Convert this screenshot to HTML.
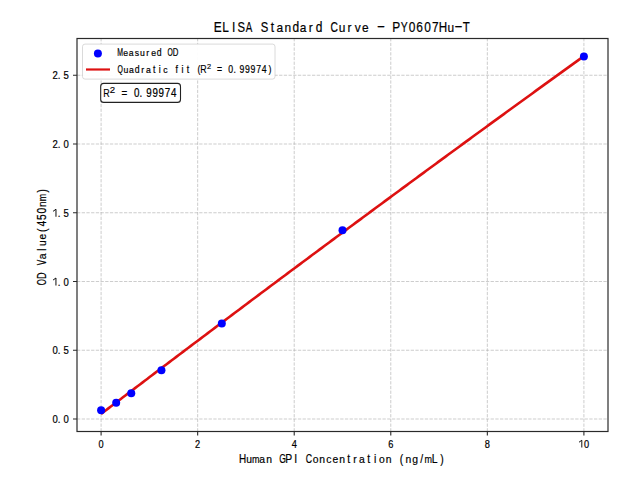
<!DOCTYPE html><html><head><meta charset="utf-8"><style>html,body{margin:0;padding:0;background:#fff;width:640px;height:480px;overflow:hidden}svg{display:block}text{font-family:"Liberation Sans",sans-serif}</style></head><body>
<svg width="640" height="480" viewBox="0 0 640 480">
<rect width="640" height="480" fill="#fff"/>
<path d="M101.10 431.50V38.50M197.66 431.50V38.50M294.22 431.50V38.50M390.78 431.50V38.50M487.34 431.50V38.50M583.90 431.50V38.50M77.00 419.00H608.00M77.00 350.25H608.00M77.00 281.50H608.00M77.00 212.75H608.00M77.00 144.00H608.00M77.00 75.25H608.00" stroke="#b0b0b0" stroke-opacity="0.7" stroke-width="0.9" stroke-dasharray="3.3 1.4" fill="none"/>
<polyline points="101.10,413.94 103.53,412.09 105.95,410.24 108.38,408.39 110.80,406.55 113.23,404.70 115.66,402.86 118.08,401.01 120.51,399.17 122.94,397.33 125.36,395.48 127.79,393.64 130.21,391.80 132.64,389.96 135.07,388.12 137.49,386.27 139.92,384.43 142.34,382.60 144.77,380.76 147.20,378.92 149.62,377.08 152.05,375.24 154.47,373.41 156.90,371.57 159.33,369.73 161.75,367.90 164.18,366.06 166.61,364.23 169.03,362.39 171.46,360.56 173.88,358.73 176.31,356.89 178.74,355.06 181.16,353.23 183.59,351.40 186.01,349.57 188.44,347.74 190.87,345.91 193.29,344.08 195.72,342.25 198.15,340.42 200.57,338.60 203.00,336.77 205.42,334.94 207.85,333.12 210.28,331.29 212.70,329.47 215.13,327.64 217.55,325.82 219.98,323.99 222.41,322.17 224.83,320.35 227.26,318.53 229.68,316.70 232.11,314.88 234.54,313.06 236.96,311.24 239.39,309.42 241.82,307.60 244.24,305.79 246.67,303.97 249.09,302.15 251.52,300.33 253.95,298.52 256.37,296.70 258.80,294.88 261.22,293.07 263.65,291.25 266.08,289.44 268.50,287.63 270.93,285.81 273.36,284.00 275.78,282.19 278.21,280.38 280.63,278.57 283.06,276.76 285.49,274.95 287.91,273.14 290.34,271.33 292.76,269.52 295.19,267.71 297.62,265.90 300.04,264.10 302.47,262.29 304.89,260.48 307.32,258.68 309.75,256.87 312.17,255.07 314.60,253.26 317.03,251.46 319.45,249.66 321.88,247.85 324.30,246.05 326.73,244.25 329.16,242.45 331.58,240.65 334.01,238.85 336.43,237.05 338.86,235.25 341.29,233.45 343.71,231.65 346.14,229.85 348.57,228.06 350.99,226.26 353.42,224.46 355.84,222.67 358.27,220.87 360.70,219.08 363.12,217.28 365.55,215.49 367.97,213.70 370.40,211.91 372.83,210.11 375.25,208.32 377.68,206.53 380.11,204.74 382.53,202.95 384.96,201.16 387.38,199.37 389.81,197.58 392.24,195.79 394.66,194.01 397.09,192.22 399.51,190.43 401.94,188.65 404.37,186.86 406.79,185.08 409.22,183.29 411.64,181.51 414.07,179.72 416.50,177.94 418.92,176.16 421.35,174.37 423.78,172.59 426.20,170.81 428.63,169.03 431.05,167.25 433.48,165.47 435.91,163.69 438.33,161.91 440.76,160.13 443.18,158.36 445.61,156.58 448.04,154.80 450.46,153.03 452.89,151.25 455.32,149.48 457.74,147.70 460.17,145.93 462.59,144.15 465.02,142.38 467.45,140.61 469.87,138.83 472.30,137.06 474.72,135.29 477.15,133.52 479.58,131.75 482.00,129.98 484.43,128.21 486.85,126.44 489.28,124.67 491.71,122.91 494.13,121.14 496.56,119.37 498.99,117.61 501.41,115.84 503.84,114.08 506.26,112.31 508.69,110.55 511.12,108.78 513.54,107.02 515.97,105.26 518.39,103.49 520.82,101.73 523.25,99.97 525.67,98.21 528.10,96.45 530.53,94.69 532.95,92.93 535.38,91.17 537.80,89.41 540.23,87.66 542.66,85.90 545.08,84.14 547.51,82.39 549.93,80.63 552.36,78.88 554.79,77.12 557.21,75.37 559.64,73.61 562.06,71.86 564.49,70.11 566.92,68.35 569.34,66.60 571.77,64.85 574.20,63.10 576.62,61.35 579.05,59.60 581.47,57.85 583.90,56.10" fill="none" stroke="#dd1111" stroke-width="2.6" stroke-linejoin="round"/>
<circle cx="101.10" cy="410.20" r="4" fill="#0000ff"/>
<circle cx="116.19" cy="402.64" r="4" fill="#0000ff"/>
<circle cx="131.27" cy="393.15" r="4" fill="#0000ff"/>
<circle cx="161.45" cy="370.32" r="4" fill="#0000ff"/>
<circle cx="221.80" cy="323.57" r="4" fill="#0000ff"/>
<circle cx="342.50" cy="230.35" r="4" fill="#0000ff"/>
<circle cx="583.90" cy="56.55" r="4" fill="#0000ff"/>
<rect x="77.00" y="38.50" width="531.00" height="393.00" fill="none" stroke="#2a2a2a" stroke-width="1.2"/>
<path d="M101.10 431.50v4M197.66 431.50v4M294.22 431.50v4M390.78 431.50v4M487.34 431.50v4M583.90 431.50v4M77.00 419.00h-4M77.00 350.25h-4M77.00 281.50h-4M77.00 212.75h-4M77.00 144.00h-4M77.00 75.25h-4" stroke="#2a2a2a" stroke-width="1.1" fill="none"/>
<g><text transform="translate(98.53,447.50) scale(0.820,1.000)" font-size="11.26" fill="#000" stroke="#000" stroke-width="0.22">0</text></g>
<g><text transform="translate(195.09,447.50) scale(0.820,1.000)" font-size="11.26" fill="#000" stroke="#000" stroke-width="0.22">2</text></g>
<g><text transform="translate(291.68,447.50) scale(0.820,1.000)" font-size="11.26" fill="#000" stroke="#000" stroke-width="0.22">4</text></g>
<g><text transform="translate(388.18,447.50) scale(0.820,1.000)" font-size="11.26" fill="#000" stroke="#000" stroke-width="0.22">6</text></g>
<g><text transform="translate(484.77,447.50) scale(0.820,1.000)" font-size="11.26" fill="#000" stroke="#000" stroke-width="0.22">8</text></g>
<g><path d="M581.80 447.50V440.25L579.01 442.23" stroke="#000" stroke-width="0.93" fill="none" stroke-linejoin="bevel"/><text transform="translate(584.11,447.50) scale(0.820,1.000)" font-size="11.26" fill="#000" stroke="#000" stroke-width="0.22">0</text></g>
<g><text transform="translate(52.57,423.00) scale(0.820,1.000)" font-size="11.63" fill="#000" stroke="#000" stroke-width="0.22">0</text><text transform="translate(57.75,423.00) scale(0.820,1.000)" font-size="11.63" fill="#000" stroke="#000" stroke-width="0.22">.</text><text transform="translate(63.57,423.00) scale(0.820,1.000)" font-size="11.63" fill="#000" stroke="#000" stroke-width="0.22">0</text></g>
<g><text transform="translate(52.59,354.25) scale(0.820,1.000)" font-size="11.63" fill="#000" stroke="#000" stroke-width="0.22">0</text><text transform="translate(57.77,354.25) scale(0.820,1.000)" font-size="11.63" fill="#000" stroke="#000" stroke-width="0.22">.</text><text transform="translate(63.60,354.25) scale(0.820,1.000)" font-size="11.63" fill="#000" stroke="#000" stroke-width="0.22">5</text></g>
<g><path d="M55.95 285.50V278.00L53.07 280.06" stroke="#000" stroke-width="0.96" fill="none" stroke-linejoin="bevel"/><text transform="translate(57.75,285.50) scale(0.820,1.000)" font-size="11.63" fill="#000" stroke="#000" stroke-width="0.22">.</text><text transform="translate(63.57,285.50) scale(0.820,1.000)" font-size="11.63" fill="#000" stroke="#000" stroke-width="0.22">0</text></g>
<g><path d="M55.97 216.75V209.25L53.09 211.31" stroke="#000" stroke-width="0.96" fill="none" stroke-linejoin="bevel"/><text transform="translate(57.77,216.75) scale(0.820,1.000)" font-size="11.63" fill="#000" stroke="#000" stroke-width="0.22">.</text><text transform="translate(63.60,216.75) scale(0.820,1.000)" font-size="11.63" fill="#000" stroke="#000" stroke-width="0.22">5</text></g>
<g><text transform="translate(52.57,148.00) scale(0.820,1.000)" font-size="11.63" fill="#000" stroke="#000" stroke-width="0.22">2</text><text transform="translate(57.75,148.00) scale(0.820,1.000)" font-size="11.63" fill="#000" stroke="#000" stroke-width="0.22">.</text><text transform="translate(63.57,148.00) scale(0.820,1.000)" font-size="11.63" fill="#000" stroke="#000" stroke-width="0.22">0</text></g>
<g><text transform="translate(52.59,79.25) scale(0.820,1.000)" font-size="11.63" fill="#000" stroke="#000" stroke-width="0.22">2</text><text transform="translate(57.77,79.25) scale(0.820,1.000)" font-size="11.63" fill="#000" stroke="#000" stroke-width="0.22">.</text><text transform="translate(63.60,79.25) scale(0.820,1.000)" font-size="11.63" fill="#000" stroke="#000" stroke-width="0.22">5</text></g>
<g><text transform="translate(213.82,31.50) scale(0.820,1.000)" font-size="14.54" fill="#000" stroke="#000" stroke-width="0.22">E</text><text transform="translate(222.18,31.50) scale(0.820,1.000)" font-size="14.54" fill="#000" stroke="#000" stroke-width="0.22">L</text><text transform="translate(231.89,31.50) scale(0.820,1.000)" font-size="14.54" fill="#000" stroke="#000" stroke-width="0.22">I</text><text transform="translate(237.55,31.50) scale(0.775,1.000)" font-size="14.54" fill="#000" stroke="#000" stroke-width="0.22">S</text><text transform="translate(245.80,31.50) scale(0.673,1.000)" font-size="14.54" fill="#000" stroke="#000" stroke-width="0.22">A</text><text transform="translate(260.82,31.50) scale(0.775,1.000)" font-size="14.54" fill="#000" stroke="#000" stroke-width="0.22">S</text><text transform="translate(270.63,31.50) scale(0.820,1.000)" font-size="14.54" fill="#000" stroke="#000" stroke-width="0.22">t</text><text transform="translate(276.52,31.50) scale(0.820,0.900)" font-size="14.54" fill="#000" stroke="#000" stroke-width="0.22">a</text><text transform="translate(284.52,31.50) scale(0.820,0.900)" font-size="14.54" fill="#000" stroke="#000" stroke-width="0.22">n</text><text transform="translate(292.42,31.50) scale(0.820,1.000)" font-size="14.54" fill="#000" stroke="#000" stroke-width="0.22">d</text><text transform="translate(299.79,31.50) scale(0.820,0.900)" font-size="14.54" fill="#000" stroke="#000" stroke-width="0.22">a</text><text transform="translate(308.83,31.50) scale(0.820,0.900)" font-size="14.54" fill="#000" stroke="#000" stroke-width="0.22">r</text><text transform="translate(315.69,31.50) scale(0.820,1.000)" font-size="14.54" fill="#000" stroke="#000" stroke-width="0.22">d</text><text transform="translate(330.62,31.50) scale(0.704,1.000)" font-size="14.54" fill="#000" stroke="#000" stroke-width="0.22">C</text><text transform="translate(338.84,31.50) scale(0.820,0.900)" font-size="14.54" fill="#000" stroke="#000" stroke-width="0.22">u</text><text transform="translate(347.62,31.50) scale(0.820,0.900)" font-size="14.54" fill="#000" stroke="#000" stroke-width="0.22">r</text><text transform="translate(354.68,31.50) scale(0.820,0.900)" font-size="14.54" fill="#000" stroke="#000" stroke-width="0.22">v</text><text transform="translate(362.11,31.50) scale(0.820,0.900)" font-size="14.54" fill="#000" stroke="#000" stroke-width="0.22">e</text><text transform="translate(376.70,30.80) scale(1.749,1.000)" font-size="14.54" fill="#000" stroke="#000" stroke-width="0.22">-</text><text transform="translate(392.29,31.50) scale(0.820,1.000)" font-size="14.54" fill="#000" stroke="#000" stroke-width="0.22">P</text><text transform="translate(400.73,31.50) scale(0.716,1.000)" font-size="14.54" fill="#000" stroke="#000" stroke-width="0.22">Y</text><text transform="translate(408.64,31.50) scale(0.820,1.000)" font-size="14.54" fill="#000" stroke="#000" stroke-width="0.22">0</text><text transform="translate(416.36,31.50) scale(0.820,1.000)" font-size="14.54" fill="#000" stroke="#000" stroke-width="0.22">6</text><text transform="translate(424.16,31.50) scale(0.820,1.000)" font-size="14.54" fill="#000" stroke="#000" stroke-width="0.22">0</text><text transform="translate(431.91,31.50) scale(0.820,1.000)" font-size="14.54" fill="#000" stroke="#000" stroke-width="0.22">7</text><text transform="translate(438.79,31.50) scale(0.799,1.000)" font-size="14.54" fill="#000" stroke="#000" stroke-width="0.22">H</text><text transform="translate(447.44,31.50) scale(0.820,0.900)" font-size="14.54" fill="#000" stroke="#000" stroke-width="0.22">u</text><text transform="translate(454.27,30.80) scale(1.749,1.000)" font-size="14.54" fill="#000" stroke="#000" stroke-width="0.22">-</text><text transform="translate(462.76,31.50) scale(0.789,1.000)" font-size="14.54" fill="#000" stroke="#000" stroke-width="0.22">T</text></g>
<g><text transform="translate(238.94,463.30) scale(0.785,1.000)" font-size="12.65" fill="#000" stroke="#000" stroke-width="0.22">H</text><text transform="translate(246.28,463.30) scale(0.820,0.900)" font-size="12.65" fill="#000" stroke="#000" stroke-width="0.22">u</text><text transform="translate(252.05,463.30) scale(0.712,0.900)" font-size="12.65" fill="#000" stroke="#000" stroke-width="0.22">m</text><text transform="translate(259.33,463.30) scale(0.820,0.900)" font-size="12.65" fill="#000" stroke="#000" stroke-width="0.22">a</text><text transform="translate(266.18,463.30) scale(0.820,0.900)" font-size="12.65" fill="#000" stroke="#000" stroke-width="0.22">n</text><text transform="translate(279.14,463.30) scale(0.672,1.000)" font-size="12.65" fill="#000" stroke="#000" stroke-width="0.22">G</text><text transform="translate(285.37,463.30) scale(0.820,1.000)" font-size="12.65" fill="#000" stroke="#000" stroke-width="0.22">P</text><text transform="translate(294.18,463.30) scale(0.820,1.000)" font-size="12.65" fill="#000" stroke="#000" stroke-width="0.22">I</text><text transform="translate(305.67,463.30) scale(0.693,1.000)" font-size="12.65" fill="#000" stroke="#000" stroke-width="0.22">C</text><text transform="translate(312.64,463.30) scale(0.820,0.900)" font-size="12.65" fill="#000" stroke="#000" stroke-width="0.22">o</text><text transform="translate(319.27,463.30) scale(0.820,0.900)" font-size="12.65" fill="#000" stroke="#000" stroke-width="0.22">n</text><text transform="translate(326.13,463.30) scale(0.820,0.900)" font-size="12.65" fill="#000" stroke="#000" stroke-width="0.22">c</text><text transform="translate(332.56,463.30) scale(0.820,0.900)" font-size="12.65" fill="#000" stroke="#000" stroke-width="0.22">e</text><text transform="translate(339.18,463.30) scale(0.820,0.900)" font-size="12.65" fill="#000" stroke="#000" stroke-width="0.22">n</text><text transform="translate(347.23,463.30) scale(0.820,1.000)" font-size="12.65" fill="#000" stroke="#000" stroke-width="0.22">t</text><text transform="translate(353.36,463.30) scale(0.820,0.900)" font-size="12.65" fill="#000" stroke="#000" stroke-width="0.22">r</text><text transform="translate(358.88,463.30) scale(0.820,0.900)" font-size="12.65" fill="#000" stroke="#000" stroke-width="0.22">a</text><text transform="translate(367.14,463.30) scale(0.820,1.000)" font-size="12.65" fill="#000" stroke="#000" stroke-width="0.22">t</text><text transform="translate(374.11,463.30) scale(0.820,1.000)" font-size="12.65" fill="#000" stroke="#000" stroke-width="0.22">i</text><text transform="translate(379.01,463.30) scale(0.820,0.900)" font-size="12.65" fill="#000" stroke="#000" stroke-width="0.22">o</text><text transform="translate(385.64,463.30) scale(0.820,0.900)" font-size="12.65" fill="#000" stroke="#000" stroke-width="0.22">n</text><text transform="translate(399.79,463.30) scale(0.820,1.000)" font-size="12.65" fill="#000" stroke="#000" stroke-width="0.22">(</text><text transform="translate(405.55,463.30) scale(0.820,0.900)" font-size="12.65" fill="#000" stroke="#000" stroke-width="0.22">n</text><text transform="translate(412.31,463.30) scale(0.820,0.900)" font-size="12.65" fill="#000" stroke="#000" stroke-width="0.22">g</text><text transform="translate(420.27,463.30) scale(0.820,1.000)" font-size="12.65" fill="#000" stroke="#000" stroke-width="0.22">/</text><text transform="translate(424.60,463.30) scale(0.712,0.900)" font-size="12.65" fill="#000" stroke="#000" stroke-width="0.22">m</text><text transform="translate(431.85,463.30) scale(0.820,1.000)" font-size="12.65" fill="#000" stroke="#000" stroke-width="0.22">L</text><text transform="translate(440.19,463.30) scale(0.820,1.000)" font-size="12.65" fill="#000" stroke="#000" stroke-width="0.22">)</text></g>
<g transform="translate(45.8,0) rotate(-90)">
<g><text transform="translate(-285.18,0.00) scale(0.637,1.000)" font-size="12.50" fill="#000" stroke="#000" stroke-width="0.22">O</text><text transform="translate(-279.05,0.00) scale(0.734,1.000)" font-size="12.50" fill="#000" stroke="#000" stroke-width="0.22">D</text><text transform="translate(-265.33,0.00) scale(0.661,1.000)" font-size="12.50" fill="#000" stroke="#000" stroke-width="0.22">V</text><text transform="translate(-259.14,0.00) scale(0.820,0.900)" font-size="12.50" fill="#000" stroke="#000" stroke-width="0.22">a</text><text transform="translate(-250.72,0.00) scale(0.820,1.000)" font-size="12.50" fill="#000" stroke="#000" stroke-width="0.22">l</text><text transform="translate(-245.92,0.00) scale(0.820,0.900)" font-size="12.50" fill="#000" stroke="#000" stroke-width="0.22">u</text><text transform="translate(-239.41,0.00) scale(0.820,0.900)" font-size="12.50" fill="#000" stroke="#000" stroke-width="0.22">e</text><text transform="translate(-232.06,0.00) scale(0.820,1.000)" font-size="12.50" fill="#000" stroke="#000" stroke-width="0.22">(</text><text transform="translate(-226.39,0.00) scale(0.820,1.000)" font-size="12.50" fill="#000" stroke="#000" stroke-width="0.22">4</text><text transform="translate(-219.91,0.00) scale(0.820,1.000)" font-size="12.50" fill="#000" stroke="#000" stroke-width="0.22">5</text><text transform="translate(-213.41,0.00) scale(0.820,1.000)" font-size="12.50" fill="#000" stroke="#000" stroke-width="0.22">0</text><text transform="translate(-206.92,0.00) scale(0.820,0.900)" font-size="12.50" fill="#000" stroke="#000" stroke-width="0.22">n</text><text transform="translate(-201.23,0.00) scale(0.705,0.900)" font-size="12.50" fill="#000" stroke="#000" stroke-width="0.22">m</text><text transform="translate(-192.48,0.00) scale(0.820,1.000)" font-size="12.50" fill="#000" stroke="#000" stroke-width="0.22">)</text></g>
</g>
<rect x="82.5" y="44.1" width="192.5" height="35" rx="2.5" fill="#fff" fill-opacity="0.95" stroke="#cccccc" stroke-opacity="0.8" stroke-width="0.9"/>
<circle cx="97.9" cy="53.5" r="4" fill="#0000ff"/>
<path d="M86 69.5H110" stroke="#dd1111" stroke-width="2.2"/>
<g><text transform="translate(117.33,55.90) scale(0.654,1.000)" font-size="10.61" fill="#000" stroke="#000" stroke-width="0.22">M</text><text transform="translate(123.37,55.90) scale(0.820,0.900)" font-size="10.61" fill="#000" stroke="#000" stroke-width="0.22">e</text><text transform="translate(128.73,55.90) scale(0.820,0.900)" font-size="10.61" fill="#000" stroke="#000" stroke-width="0.22">a</text><text transform="translate(134.75,55.90) scale(0.820,0.900)" font-size="10.61" fill="#000" stroke="#000" stroke-width="0.22">s</text><text transform="translate(140.03,55.90) scale(0.820,0.900)" font-size="10.61" fill="#000" stroke="#000" stroke-width="0.22">u</text><text transform="translate(146.33,55.90) scale(0.820,0.900)" font-size="10.61" fill="#000" stroke="#000" stroke-width="0.22">r</text><text transform="translate(151.14,55.90) scale(0.820,0.900)" font-size="10.61" fill="#000" stroke="#000" stroke-width="0.22">e</text><text transform="translate(156.79,55.90) scale(0.820,1.000)" font-size="10.61" fill="#000" stroke="#000" stroke-width="0.22">d</text><text transform="translate(167.58,55.90) scale(0.641,1.000)" font-size="10.61" fill="#000" stroke="#000" stroke-width="0.22">O</text><text transform="translate(172.81,55.90) scale(0.739,1.000)" font-size="10.61" fill="#000" stroke="#000" stroke-width="0.22">D</text></g>
<g><text transform="translate(117.57,73.40) scale(0.651,1.000)" font-size="10.61" fill="#000" stroke="#000" stroke-width="0.22">Q</text><text transform="translate(123.49,73.40) scale(0.820,0.900)" font-size="10.61" fill="#000" stroke="#000" stroke-width="0.22">u</text><text transform="translate(128.94,73.40) scale(0.820,0.900)" font-size="10.61" fill="#000" stroke="#000" stroke-width="0.22">a</text><text transform="translate(134.87,73.40) scale(0.820,1.000)" font-size="10.61" fill="#000" stroke="#000" stroke-width="0.22">d</text><text transform="translate(141.17,73.40) scale(0.820,0.900)" font-size="10.61" fill="#000" stroke="#000" stroke-width="0.22">r</text><text transform="translate(145.88,73.40) scale(0.820,0.900)" font-size="10.61" fill="#000" stroke="#000" stroke-width="0.22">a</text><text transform="translate(152.88,73.40) scale(0.820,1.000)" font-size="10.61" fill="#000" stroke="#000" stroke-width="0.22">t</text><text transform="translate(158.80,73.40) scale(0.820,1.000)" font-size="10.61" fill="#000" stroke="#000" stroke-width="0.22">i</text><text transform="translate(163.17,73.40) scale(0.820,0.900)" font-size="10.61" fill="#000" stroke="#000" stroke-width="0.22">c</text><text transform="translate(175.42,73.40) scale(0.820,1.000)" font-size="10.61" fill="#000" stroke="#000" stroke-width="0.22">f</text><text transform="translate(181.38,73.40) scale(0.820,1.000)" font-size="10.61" fill="#000" stroke="#000" stroke-width="0.22">i</text><text transform="translate(186.75,73.40) scale(0.820,1.000)" font-size="10.61" fill="#000" stroke="#000" stroke-width="0.22">t</text></g>
<g><text transform="translate(197.46,73.40) scale(0.820,1.000)" font-size="10.61" fill="#000" stroke="#000" stroke-width="0.22">(</text></g>
<text transform="translate(200.25,73.40) scale(0.810,1.000)" font-size="10.90" fill="#000" stroke="#000" stroke-width="0.15">R</text>
<text transform="translate(207.06,69.25) scale(1.140,1.000)" font-size="6.44" fill="#000" stroke="#000" stroke-width="0.15">2</text>
<g><text transform="translate(217.08,73.40) scale(0.820,1.000)" font-size="10.61" fill="#000" stroke="#000" stroke-width="0.22">=</text><text transform="translate(228.33,73.40) scale(0.820,1.000)" font-size="10.61" fill="#000" stroke="#000" stroke-width="0.22">0</text><text transform="translate(233.44,73.40) scale(0.820,1.000)" font-size="10.61" fill="#000" stroke="#000" stroke-width="0.22">.</text><text transform="translate(239.48,73.40) scale(0.820,1.000)" font-size="10.61" fill="#000" stroke="#000" stroke-width="0.22">9</text><text transform="translate(245.05,73.40) scale(0.820,1.000)" font-size="10.61" fill="#000" stroke="#000" stroke-width="0.22">9</text><text transform="translate(250.62,73.40) scale(0.820,1.000)" font-size="10.61" fill="#000" stroke="#000" stroke-width="0.22">9</text><text transform="translate(256.18,73.40) scale(0.820,1.000)" font-size="10.61" fill="#000" stroke="#000" stroke-width="0.22">7</text><text transform="translate(261.78,73.40) scale(0.820,1.000)" font-size="10.61" fill="#000" stroke="#000" stroke-width="0.22">4</text><text transform="translate(268.54,73.40) scale(0.820,1.000)" font-size="10.61" fill="#000" stroke="#000" stroke-width="0.22">)</text></g>
<rect x="100.7" y="83.4" width="79.8" height="19" rx="3" fill="#fff" stroke="#222" stroke-width="1.1"/>
<text transform="translate(103.36,97.00) scale(0.760,1.000)" font-size="11.77" fill="#000" stroke="#000" stroke-width="0.15">R</text>
<text transform="translate(109.82,92.60) scale(1.140,1.000)" font-size="8.45" fill="#000" stroke="#000" stroke-width="0.15">2</text>
<g><text transform="translate(121.42,97.10) scale(0.820,1.000)" font-size="11.92" fill="#000" stroke="#000" stroke-width="0.22">=</text><text transform="translate(133.90,97.10) scale(0.820,1.000)" font-size="11.92" fill="#000" stroke="#000" stroke-width="0.22">0</text><text transform="translate(139.58,97.10) scale(0.820,1.000)" font-size="11.92" fill="#000" stroke="#000" stroke-width="0.22">.</text><text transform="translate(146.24,97.10) scale(0.820,1.000)" font-size="11.92" fill="#000" stroke="#000" stroke-width="0.22">9</text><text transform="translate(152.41,97.10) scale(0.820,1.000)" font-size="11.92" fill="#000" stroke="#000" stroke-width="0.22">9</text><text transform="translate(158.58,97.10) scale(0.820,1.000)" font-size="11.92" fill="#000" stroke="#000" stroke-width="0.22">9</text><text transform="translate(164.74,97.10) scale(0.820,1.000)" font-size="11.92" fill="#000" stroke="#000" stroke-width="0.22">7</text><text transform="translate(170.95,97.10) scale(0.820,1.000)" font-size="11.92" fill="#000" stroke="#000" stroke-width="0.22">4</text></g>
</svg></body></html>
